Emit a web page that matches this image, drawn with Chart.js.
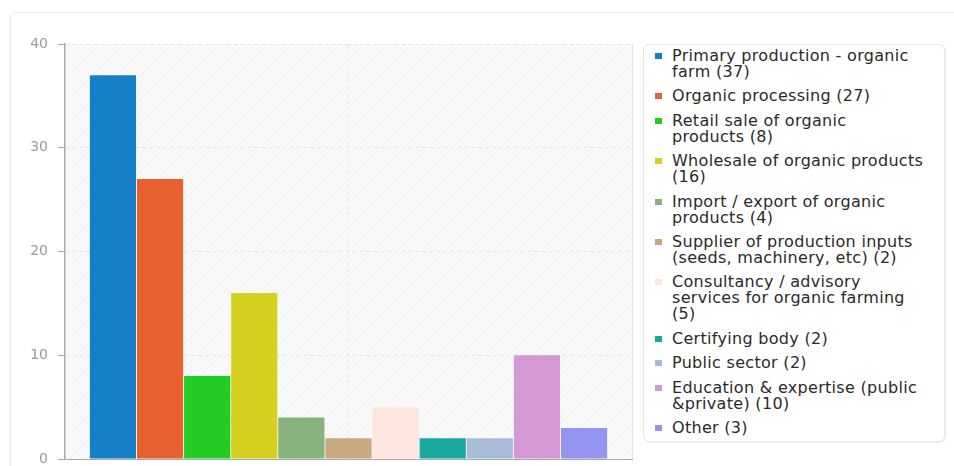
<!DOCTYPE html>
<html>
<head>
<meta charset="utf-8">
<script src="https://cdn.jsdelivr.net/npm/chart.js@4.4.1/dist/chart.umd.min.js"></script>
<style>
  html, body { margin: 0; padding: 0; background: #fff; width: 954px; height: 466px; overflow: hidden; }
  #card { position: absolute; left: 10px; top: 12px; width: 960px; height: 470px; border: 1px solid #ececec; border-radius: 6px; }
  #chart-wrap { position: absolute; left: 0; top: 0; width: 640px; height: 466px; }
  #legend { position: absolute; left: 643px; top: 44px; width: 302px; height: 398px; box-sizing: border-box;
            border: 1px solid #e6e6e6; border-radius: 6px; box-shadow: 1px 1px 2px rgba(0,0,0,0.08); }
  #legend ul { list-style: none; margin: 0; padding: 3px 0 0 0; }
  #legend li { position: relative; padding-left: 28px; margin-bottom: 8.4px; font: 16px/16px "DejaVu Sans", sans-serif;
               letter-spacing: 0.3px; color: #2a2a2a; white-space: nowrap; }
  #legend li .box { position: absolute; left: 11px; top: 5px; width: 7px; height: 6px; }
</style>
</head>
<body>
<div id="card"></div>
<div id="chart-wrap"><canvas id="org-chart"></canvas></div>
<div id="legend"></div>
<script>
// categories, one entry per bar; inner arrays are the legend lines
const categories = [
    ['Primary production - organic', 'farm'],
    ['Organic processing'],
    ['Retail sale of organic', 'products'],
    ['Wholesale of organic products', ''],
    ['Import / export of organic', 'products'],
    ['Supplier of production inputs', '(seeds, machinery, etc)'],
    ['Consultancy / advisory', 'services for organic farming', ''],
    ['Certifying body'],
    ['Public sector'],
    ['Education & expertise (public', '&private)'],
    ['Other']
];
const counts = [37, 27, 8, 16, 4, 2, 5, 2, 2, 10, 3];
const colors = ['#1580c8', '#e8602f', '#22cc22', '#d4d21e', '#88b27e', '#c8a87e',
                '#fce6dd', '#17a89e', '#a8bcd6', '#d498d4', '#9494f2'];
const yTicks = [0, 10, 20, 30, 40];

// hatched light background behind the bars
const plotBackground = {
    id: 'plotBackground',
    beforeDraw(chart) {
        const {ctx, chartArea: a} = chart;
        const tile = document.createElement('canvas');
        tile.width = 6; tile.height = 6;
        const t = tile.getContext('2d');
        t.fillStyle = '#f9f9f9';
        t.fillRect(0, 0, 6, 6);
        t.strokeStyle = '#f0f0f0';
        t.beginPath(); t.moveTo(0, 6); t.lineTo(6, 0); t.stroke();
        ctx.save();
        ctx.fillStyle = ctx.createPattern(tile, 'repeat');
        ctx.fillRect(a.left, a.top, a.right - a.left, a.bottom - a.top);
        ctx.restore();
    },
    afterDraw(chart) {
        const {ctx, chartArea: a} = chart;
        ctx.save();
        ctx.strokeStyle = '#e2e2e2';
        ctx.lineWidth = 1;
        ctx.beginPath();
        ctx.moveTo(a.right + 0.5, a.top);
        ctx.lineTo(a.right + 0.5, a.bottom);
        ctx.stroke();
        ctx.restore();
    }
};

const chart = new Chart(document.getElementById('org-chart'), {
    type: 'bar',
    data: {
        labels: [''],
        datasets: categories.map((name, i) => ({
            label: name.filter(s => s).join(' '),
            data: [counts[i]],
            backgroundColor: colors[i],
            borderWidth: 0,
            categoryPercentage: 0.914,
            barPercentage: 0.98
        }))
    },
    options: {
        responsive: true,
        maintainAspectRatio: false,
        animation: false,
        layout: { padding: { left: 0, top: 44, right: 8, bottom: 7 } },
        scales: {
            x: {
                afterFit: (scale) => { scale.height = 0; },
                ticks: { display: false },
                grid: { display: true, offset: false, drawTicks: false, color: '#e8e8e8' },
                border: { display: true, color: '#aaa', width: 1, dash: [4, 3] }
            },
            y: {
                min: yTicks[0],
                max: yTicks[yTicks.length - 1],
                afterBuildTicks: (scale) => { scale.ticks = yTicks.map(v => ({ value: v })); },
                afterFit: (scale) => {
                    scale.width = 65;
                    scale.paddingTop = 0;
                    scale.paddingBottom = 0;
                },
                ticks: { padding: 10, color: '#9a9a9a', font: { family: 'DejaVu Sans', size: 14 } },
                grid: { color: '#e4e4e4', tickColor: '#aaa', tickLength: 7, tickBorderDash: [] },
                border: { display: true, color: '#aaa', width: 1.5, dash: [4, 3] }
            }
        },
        plugins: {
            legend: { display: false }
        }
    },
    plugins: [plotBackground]
});

// html legend built from the chart's datasets
const ul = document.createElement('ul');
chart.data.datasets.forEach((ds, i) => {
    const lines = categories[i].slice();
    const last = lines.length - 1;
    lines[last] = (lines[last] ? lines[last] + ' ' : '') + '(' + counts[i] + ')';
    const li = document.createElement('li');
    const box = document.createElement('span');
    box.className = 'box';
    box.style.background = ds.backgroundColor;
    li.appendChild(box);
    lines.forEach((line, k) => {
        if (k > 0) li.appendChild(document.createElement('br'));
        li.appendChild(document.createTextNode(line));
    });
    ul.appendChild(li);
});
document.getElementById('legend').appendChild(ul);
</script>
</body>
</html>
